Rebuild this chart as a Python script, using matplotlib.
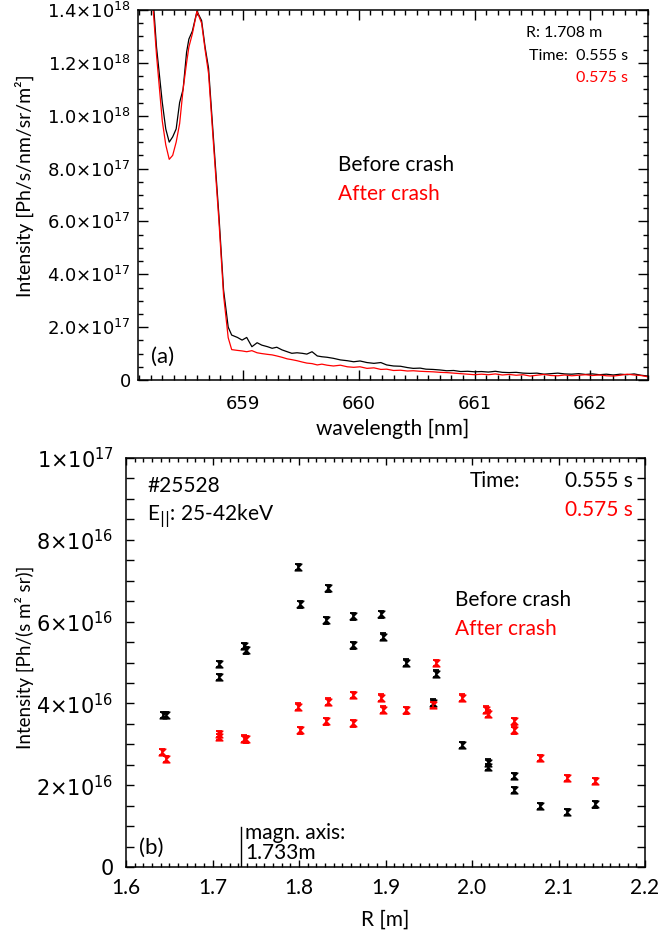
import matplotlib
matplotlib.use("Agg")
import matplotlib.pyplot as plt
from matplotlib.ticker import MultipleLocator, FixedLocator, FixedFormatter

FONT = "Lato"
plt.rcParams["font.family"] = [FONT, "DejaVu Sans"]
plt.rcParams["mathtext.fontset"] = "dejavusans"

# ---- panel (a): spectra, intensity in units of 1e17 ----
wl = [658.10, 658.15, 658.20, 658.25, 658.30, 658.33, 658.36, 658.39, 658.42, 658.45,
      658.48, 658.51, 658.53, 658.56, 658.60, 658.64, 658.67, 658.70, 658.74, 658.79,
      658.83, 658.87, 658.90, 658.95, 658.99, 659.03, 659.075, 659.12, 659.16, 659.21,
      659.25, 659.29, 659.335, 659.38, 659.42, 659.465, 659.51, 659.55, 659.595, 659.64,
      659.68, 659.725, 659.78, 659.84, 659.90, 659.955, 660.01, 660.07, 660.13, 660.19,
      660.24, 660.30, 660.36, 660.42, 660.47, 660.53, 660.58, 660.64, 660.70, 660.76,
      660.82, 660.88, 660.94, 661.00, 661.06, 661.12, 661.18, 661.24, 661.30, 661.36,
      661.42, 661.48, 661.54, 661.60, 661.66, 661.72, 661.78, 661.84, 661.90, 661.96,
      662.02, 662.08, 662.14, 662.20, 662.26, 662.32, 662.38, 662.44, 662.50]
spec_before = [22.0, 18.5, 15.7, 12.6, 10.5, 9.5, 9.0, 9.2, 9.5, 10.5,
               11.0, 12.4, 12.9, 13.2, 13.95, 13.6, 12.6, 11.8, 9.3, 6.2,
               3.4, 2.0, 1.70, 1.61, 1.51, 1.61, 1.26, 1.41, 1.32, 1.26,
               1.20, 1.24, 1.14, 1.07, 1.01, 1.03, 1.01, 0.98, 1.07, 0.91,
               0.88, 0.86, 0.82, 0.76, 0.73, 0.69, 0.72, 0.66, 0.63, 0.66,
               0.57, 0.53, 0.52, 0.47, 0.44, 0.45, 0.41, 0.40, 0.38, 0.35,
               0.36, 0.32, 0.33, 0.31, 0.32, 0.30, 0.33, 0.29, 0.28, 0.29,
               0.26, 0.25, 0.26, 0.22, 0.24, 0.26, 0.23, 0.22, 0.24, 0.21,
               0.23, 0.20, 0.22, 0.19, 0.22, 0.20, 0.23, 0.18, 0.15]
spec_after = [22.0, 18.5, 15.3, 12.3, 9.8, 8.9, 8.35, 8.5, 9.0, 9.7,
              11.0, 12.0, 12.6, 13.1, 13.95, 13.5, 12.5, 11.6, 9.1, 6.0,
              3.2, 1.6, 1.15, 1.12, 1.10, 1.07, 1.11, 1.03, 1.00, 0.97,
              0.95, 0.91, 0.86, 0.80, 0.77, 0.73, 0.68, 0.64, 0.62, 0.57,
              0.60, 0.56, 0.53, 0.56, 0.50, 0.48, 0.50, 0.44, 0.46, 0.40,
              0.41, 0.36, 0.37, 0.34, 0.35, 0.33, 0.32, 0.31, 0.29, 0.28,
              0.26, 0.24, 0.22, 0.20, 0.22, 0.20, 0.23, 0.19, 0.21, 0.18,
              0.20, 0.15, 0.18, 0.21, 0.17, 0.16, 0.19, 0.16, 0.18, 0.20,
              0.17, 0.19, 0.16, 0.15, 0.18, 0.22, 0.19, 0.17, 0.12]
a_yticks = [0, 2e17, 4e17, 6e17, 8e17, 1.0e18, 1.2e18, 1.4e18]
a_ylabels = ["0", r"$2.0{\times}10^{17}$", r"$4.0{\times}10^{17}$", r"$6.0{\times}10^{17}$",
             r"$8.0{\times}10^{17}$", r"$1.0{\times}10^{18}$", r"$1.2{\times}10^{18}$",
             r"$1.4{\times}10^{18}$"]

# ---- panel (b): profiles, intensity in units of 1e16 ----
R_before = [1.643, 1.646, 1.707, 1.707, 1.736, 1.739, 1.799, 1.801, 1.831, 1.834,
            1.862, 1.862, 1.895, 1.897, 1.924, 1.955, 1.958, 1.989, 2.018, 2.018,
            2.049, 2.049, 2.079, 2.110, 2.142]
I_before = [3.72, 3.72, 4.96, 4.65, 5.40, 5.30, 7.33, 6.42, 6.03, 6.81,
            6.13, 5.42, 6.18, 5.63, 5.00, 4.02, 4.73, 2.98, 2.55, 2.45,
            2.22, 1.88, 1.49, 1.35, 1.53]
R_after = [1.642, 1.646, 1.707, 1.707, 1.736, 1.739, 1.799, 1.801, 1.831, 1.834,
           1.862, 1.862, 1.895, 1.897, 1.924, 1.955, 1.958, 1.989, 2.016, 2.019,
           2.049, 2.049, 2.079, 2.110, 2.142]
I_after = [2.81, 2.64, 3.25, 3.18, 3.14, 3.12, 3.92, 3.34, 3.56, 4.04,
           4.20, 3.51, 4.14, 3.85, 3.83, 3.96, 4.99, 4.14, 3.85, 3.75,
           3.56, 3.34, 2.67, 2.18, 2.10]
I_err = 0.08
R_axis = 1.733
b_yticks = [0, 2e16, 4e16, 6e16, 8e16, 1e17]
b_ylabels = ["0", r"$2{\times}10^{16}$", r"$4{\times}10^{16}$", r"$6{\times}10^{16}$",
             r"$8{\times}10^{16}$", r"$1{\times}10^{17}$"]

W, H = 658, 934
fig = plt.figure(figsize=(W / 100, H / 100), dpi=100)


def px(x, y):
    return x / W, 1 - y / H


def add_ax(l, t, r, b):
    return fig.add_axes([l / W, 1 - b / H, (r - l) / W, (b - t) / H])


# ---------------- panel (a) ----------------
ax1 = add_ax(138, 10, 648, 380)
ax1.plot(wl, [v * 1e17 for v in spec_before], color="black", lw=0.9)
ax1.plot(wl, [v * 1e17 for v in spec_after], color="red", lw=0.9)
ax1.set_xlim(658.09, 662.5)
ax1.set_ylim(0, 1.4e18)
ax1.xaxis.set_major_locator(MultipleLocator(1))
ax1.xaxis.set_minor_locator(MultipleLocator(0.1))
ax1.yaxis.set_major_locator(FixedLocator(a_yticks))
ax1.yaxis.set_major_formatter(FixedFormatter(a_ylabels))
ax1.yaxis.set_minor_locator(MultipleLocator(5e16))
ax1.tick_params(which="both", direction="in", top=True, right=True, labelsize=13, width=1)
ax1.tick_params(which="major", length=7)
ax1.tick_params(which="minor", length=3.6)
ax1.tick_params(axis="x", pad=11)
ax1.tick_params(axis="y", pad=5)
plt.setp(ax1.get_xticklabels() + ax1.get_yticklabels(), family="DejaVu Sans")
ax1.set_xlabel("wavelength [nm]", fontsize=15)
ax1.xaxis.set_label_coords(0.5, -0.105)
ax1.set_ylabel("Intensity [Ph/s/nm/sr/m²]", fontsize=14)
ax1.yaxis.set_label_coords(-0.204, 0.524)
for s in ax1.spines.values():
    s.set_linewidth(1.1)

fig.text(*px(602, 37), "R: 1.708 m", fontsize=11.5, ha="right", va="baseline")
fig.text(*px(628, 60), "Time:  0.555 s", fontsize=11.5, ha="right", va="baseline")
fig.text(*px(628, 82), "0.575 s", fontsize=11.5, ha="right", va="baseline", color="red")
fig.text(*px(338, 171), "Before crash", fontsize=15, va="baseline")
fig.text(*px(338, 200), "After crash", fontsize=15, va="baseline", color="red")
fig.text(*px(151, 363), "(a)", fontsize=16, va="baseline")

# ---------------- panel (b) ----------------
ax2 = add_ax(126, 458, 645, 867)
hourglass = [(-1, 1), (1, 1), (0, 0), (1, -1), (-1, -1), (0, 0)]
ax2.errorbar(R_before, [v * 1e16 for v in I_before], yerr=I_err * 1e16, fmt="none",
             ecolor="black", elinewidth=1.2, capsize=2.4, capthick=1.3)
ax2.scatter(R_before, [v * 1e16 for v in I_before], marker=hourglass, s=24, color="black")
ax2.errorbar(R_after, [v * 1e16 for v in I_after], yerr=I_err * 1e16, fmt="none",
             ecolor="red", elinewidth=1.2, capsize=2.4, capthick=1.3)
ax2.scatter(R_after, [v * 1e16 for v in I_after], marker=hourglass, s=24, color="red")
ax2.plot([R_axis, R_axis], [0, 0.98e16], color="black", lw=1)
ax2.set_xlim(1.6, 2.2)
ax2.set_ylim(0, 1e17)
ax2.xaxis.set_major_locator(MultipleLocator(0.1))
ax2.xaxis.set_minor_locator(MultipleLocator(0.01))
ax2.xaxis.set_major_formatter(plt.FormatStrFormatter("%.1f"))
ax2.yaxis.set_major_locator(FixedLocator(b_yticks))
ax2.yaxis.set_major_formatter(FixedFormatter(b_ylabels))
ax2.yaxis.set_minor_locator(MultipleLocator(5e15))
ax2.tick_params(which="both", direction="in", top=True, right=True, width=1)
ax2.tick_params(axis="x", which="major", length=5, labelsize=15, pad=8)
ax2.tick_params(axis="x", which="minor", length=2.9)
ax2.tick_params(axis="y", which="both", length=5.8, labelsize=15, pad=9)
plt.setp(ax2.get_yticklabels(), family="DejaVu Sans")
ax2.set_xlabel("R [m]", fontsize=15)
ax2.xaxis.set_label_coords(0.5, -0.104)
ax2.set_ylabel("Intensity [Ph/(s m² sr)]", fontsize=13.5)
ax2.yaxis.set_label_coords(-0.178, 0.513)
for s in ax2.spines.values():
    s.set_linewidth(1.1)

fig.text(*px(147, 492), "#25528", fontsize=15, va="baseline")
fig.text(*px(147, 520), r"E$_{\mathrm{||}}$: 25-42keV", fontsize=15, va="baseline")
fig.text(*px(470, 487), "Time:", fontsize=15, va="baseline")
fig.text(*px(633, 487), "0.555 s", fontsize=15, ha="right", va="baseline")
fig.text(*px(633, 516), "0.575 s", fontsize=15, ha="right", va="baseline", color="red")
fig.text(*px(455, 606), "Before crash", fontsize=15, va="baseline")
fig.text(*px(455, 635), "After crash", fontsize=15, va="baseline", color="red")
fig.text(*px(139, 854), "(b)", fontsize=16, va="baseline")
fig.text(*px(245, 839), "magn. axis:", fontsize=15, va="baseline")
fig.text(*px(245, 859), "1.733m", fontsize=15, va="baseline")

fig.savefig("out.png", dpi=100)
